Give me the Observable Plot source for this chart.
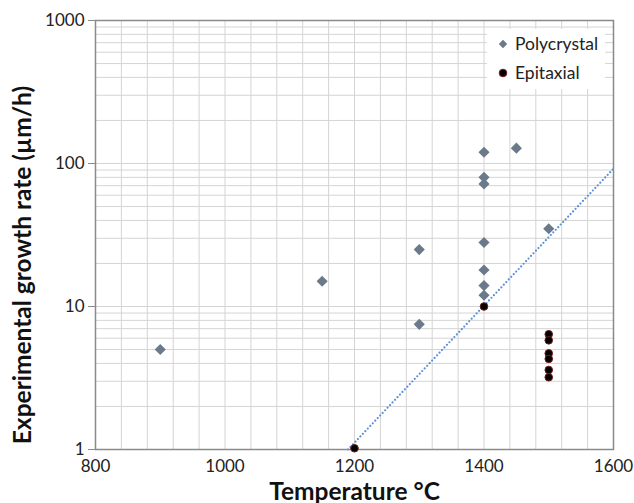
<!DOCTYPE html>
<html>
<head>
<meta charset="utf-8">
<script src="https://cdn.jsdelivr.net/npm/d3@7"></script>
<script src="https://cdn.jsdelivr.net/npm/@observablehq/plot@0.6"></script>
<style>
  body { margin: 0; background: #fff; font-family: Lato, "Open Sans", sans-serif; }
  #wrap { position: relative; width: 634px; height: 503px; }
  #legend { position: absolute; left: 487px; top: 29px; width: 118px; height: 60px; background: #fff; font-size: 17.5px; color: #222; }
  #legend .row { display: flex; align-items: center; height: 29px; padding-left: 11px; }
  #legend svg { margin-right: 7px; }
  g[aria-label="y-axis label"] text, g[aria-label="x-axis label"] text { font-weight: bold; font-size: 24.5px; fill: #111; }
</style>
</head>
<body>
<div id="wrap"></div>
<script>
// Polycrystal series (temperature °C, growth rate µm/h)
const polyTemp = [900, 1150, 1300, 1300, 1400, 1400, 1400, 1400, 1400, 1400, 1400, 1450, 1500];
const polyRate = [5, 15, 25, 7.5, 120, 80, 72, 28, 18, 14, 12, 128, 35];
// Epitaxial series
const epiTemp = [1200, 1400, 1500, 1500, 1500, 1500, 1500, 1500];
const epiRate = [1.02, 10, 6.4, 5.8, 4.7, 4.3, 3.6, 3.2];
// Trend line (exponential fit) end points
const trendTemp = [1190, 1600];
const trendRate = [1, 92];
// Axis ticks and grid
const xTicks = [800, 1000, 1200, 1400, 1600];
const yTicks = [1, 10, 100, 1000];
const xGrid = [800, 840, 880, 920, 960, 1000, 1040, 1080, 1120, 1160, 1200, 1240, 1280, 1320, 1360, 1400, 1440, 1480, 1520, 1560, 1600];
const yGrid = [1, 2, 3, 4, 5, 6, 7, 8, 9, 10, 20, 30, 40, 50, 60, 70, 80, 90, 100, 200, 300, 400, 500, 600, 700, 800, 900, 1000];

const poly = polyTemp.map((t, i) => ({t, r: polyRate[i]}));
const epi = epiTemp.map((t, i) => ({t, r: epiRate[i]}));
const trend = trendTemp.map((t, i) => ({t, r: trendRate[i]}));

const chart = Plot.plot({
  width: 634,
  height: 503,
  marginLeft: 95,
  marginRight: 21,
  marginTop: 20,
  marginBottom: 54,
  style: {fontFamily: "Lato, 'Open Sans', sans-serif", fontSize: "17px", color: "#222", background: "#fff"},
  x: {domain: [800, 1600]},
  y: {type: "log", domain: [1, 1000]},
  marks: [
    Plot.ruleX(xGrid, {stroke: "#d4d4d4", strokeWidth: 1}),
    Plot.ruleY(yGrid, {stroke: "#d4d4d4", strokeWidth: 1}),
    Plot.frame({stroke: "#8a8a8a", strokeWidth: 1.5}),
    Plot.line(trend, {x: "t", y: "r", stroke: "#5a8fd8", strokeWidth: 2.2, strokeDasharray: "0,3.6", strokeLinecap: "round"}),
    Plot.dot(poly, {x: "t", y: "r", symbol: "diamond2", r: 5, fill: "#6b7a8a", stroke: "none"}),
    Plot.dot(epi, {x: "t", y: "r", r: 3.8, fill: "#000", stroke: "#7a1a1a", strokeWidth: 1}),
    Plot.axisY({ticks: yTicks, tickFormat: d => String(d), tickSize: 7, tickPadding: 4, stroke: "#8a8a8a",
      label: "Experimental growth rate (µm/h)", labelAnchor: "center", labelArrow: "none", labelOffset: 82}),
    Plot.axisX({ticks: xTicks, tickFormat: d => String(d), tickSize: 0, tickPadding: 10,
      label: "Temperature °C", labelAnchor: "center", labelArrow: "none", labelOffset: 50})
  ]
});

// Shift the y-axis title down to match the reference placement
const yl = chart.querySelector('g[aria-label="y-axis label"] text');
if (yl) {
  const tr = yl.getAttribute("transform") || "";
  yl.setAttribute("transform", "translate(0,30) " + tr);
}

const wrap = document.getElementById("wrap");
wrap.appendChild(chart);
const legend = document.createElement("div");
legend.id = "legend";
legend.innerHTML = `
  <div class="row"><svg width="10" height="10"><path d="M5 0.8 L9.2 5 L5 9.2 L0.8 5 Z" fill="#6b7a8a"/></svg>Polycrystal</div>
  <div class="row"><svg width="10" height="10"><circle cx="5" cy="5" r="3.8" fill="#000" stroke="#7a1a1a"/></svg>Epitaxial</div>`;
wrap.appendChild(legend);
</script>
</body>
</html>
